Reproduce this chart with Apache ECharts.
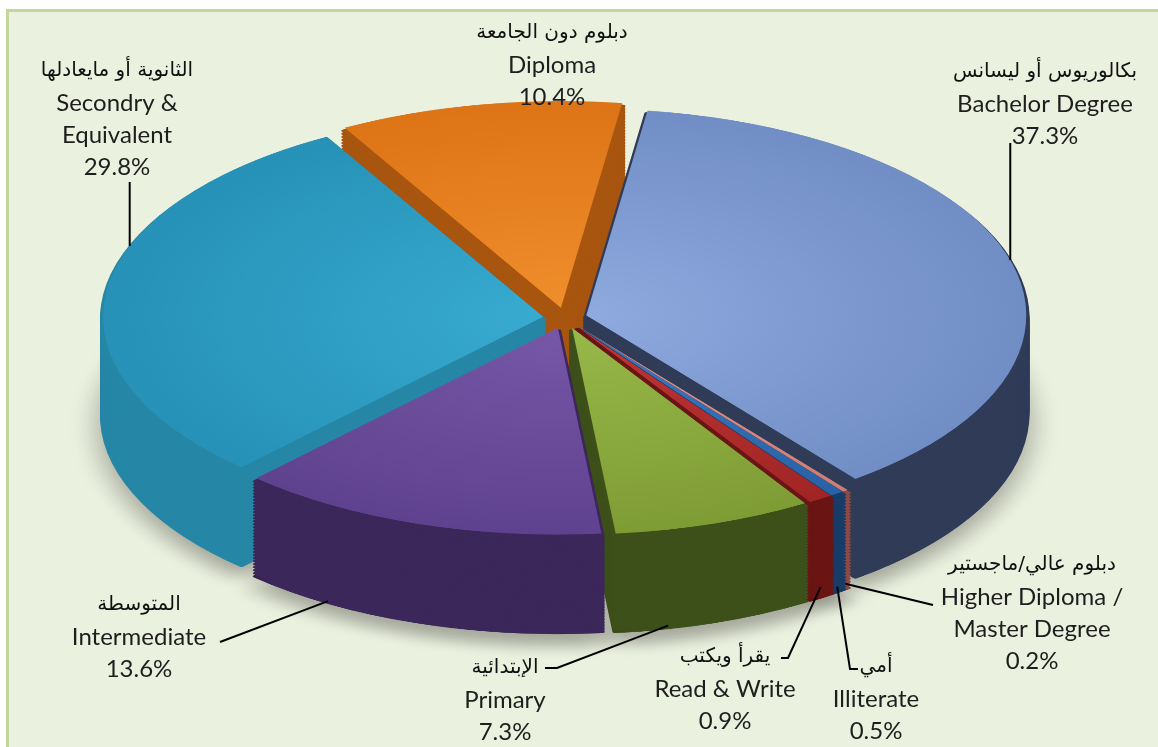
<!DOCTYPE html>
<html>
<head>
<meta charset="utf-8">
<script src="https://cdn.jsdelivr.net/npm/echarts@6/dist/echarts.min.js"></script>
<style>
  html, body { margin: 0; padding: 0; background: #ffffff; width: 1158px; height: 747px; overflow: hidden; position: relative; }
  #bg { position: absolute; left: 6px; top: 9px; width: 1152px; height: 738px; background: #ebf1df;
        border-top: 3px solid #c4d79b; border-left: 3px solid #c4d79b; box-sizing: border-box; }
  #pie { position: absolute; left: 0; top: 0; width: 1158px; transform-origin: 0 0; }
  #labels { position: absolute; left: 0; top: 0; width: 1158px; height: 747px; }
</style>
</head>
<body>
<div id="bg"></div>
<div id="pie"></div>
<div id="labels"></div>
<script>
// ---- data ----
const categoriesEn = ['Bachelor Degree', 'Higher Diploma /\nMaster Degree', 'Illiterate', 'Read & Write', 'Primary', 'Intermediate', 'Secondry &\nEquivalent', 'Diploma'];
const categoriesAr = ['بكالوريوس أو ليسانس', 'دبلوم عالي/ماجستير', 'أمي', 'يقرأ ويكتب', 'الإبتدائية', 'المتوسطة', 'الثانوية أو مايعادلها', 'دبلوم دون الجامعة'];
const shares = [37.3, 0.2, 0.5, 0.9, 7.3, 13.6, 29.8, 10.4];

// ---- styling / layout (not data) ----
const topLight   = ['#8eaade', '#e39a92', '#3a7cc4', '#c03636', '#98b84a', '#7657a8', '#38abd0', '#f08e2c'];
const topDark    = ['#6f8cc4', '#cc7b73', '#2860a3', '#a02424', '#7d9b33', '#5e418e', '#2690b6', '#dc7316'];
const sideColors = ['#2f3b57', '#8c4a46', '#183c68', '#6b1414', '#3d501a', '#3b2759', '#2586a6', '#a85510'];
const squash = 0.47;          // vertical squash of the pie canvas (perspective)
const cx = 565, cyScreen = 318, R = 440, explode = 22, depthScreen = 98, startAngle = 82;
const cyPre = cyScreen / squash, depthPre = depthScreen / squash;
const layers = 32;

// label placement (screen px): centre of text block; anchor angle (deg, null = slice middle), depth fraction, extra line points
const labelCenters = [[1045, 104], [1032, 613], [876, 699], [725, 689], [505, 700], [139, 637], [117, 119], [552, 65]];
const anchorAngles = [15.5, null, null, null, -77.4, -121.5, 160, null];
const anchorDepth  = [0, 0.95, 0.95, 0.9, 0.98, 0.99, 0, null];
const lineEnds = [
  [['ax', 143]],
  [[933, 605]],
  [[850, 669], [858, 669]],
  [[788, 658], [781, 658]],
  [[557, 668], [545, 668]],
  [[220, 642]],
  [['ax', 182]],
  null
];

// ---------- pie (drawn in a vertically squashed canvas) ----------
const pieDiv = document.getElementById('pie');
pieDiv.style.height = Math.round(747 / squash) + 'px';
pieDiv.style.transform = 'scaleY(' + squash + ')';
const pieChart = echarts.init(pieDiv, null, { renderer: 'canvas' });

function pieLayer(dy, isSide, extraStyle, name) {
  return {
    type: 'pie',
    name: name,
    silent: true,
    center: [cx, cyPre + dy],
    radius: [0, R],
    startAngle: startAngle,
    clockwise: true,
    selectedMode: 'multiple',
    selectedOffset: explode,
    avoidLabelOverlap: false,
    label: { show: false },
    labelLine: { show: false },
    emphasis: { disabled: true },
    select: isSide ? {} : { itemStyle: { borderWidth: 0 } },
    data: shares.map((v, i) => ({
      value: v, name: categoriesEn[i], selected: true,
      itemStyle: Object.assign(
        isSide
          ? { color: sideColors[i], borderColor: sideColors[i], borderWidth: depthPre / layers, borderJoin: 'round' }
          : { color: { type: 'radial', x: cx, y: cyPre, r: R + explode, global: true,
                       colorStops: [{ offset: 0, color: topLight[i] }, { offset: 1, color: topDark[i] }] } },
        extraStyle || {})
    }))
  };
}

const series = [];
for (let j = layers; j >= 1; j--) {
  const extra = j === layers ? { shadowBlur: 30, shadowColor: 'rgba(0,0,0,0.3)', shadowOffsetY: 24 } : null;
  series.push(pieLayer(depthPre * j / layers, true, extra, 'side' + j));
}
series.push(pieLayer(0, false, null, 'Education level'));

pieChart.setOption({ backgroundColor: 'transparent', animation: false, series: series });

// ---------- labels (unsquashed overlay) ----------
const total = shares.reduce((a, b) => a + b, 0);
function sliceMid(i) {
  let cum = 0;
  for (let k = 0; k < i; k++) cum += shares[k];
  const a0 = startAngle - 360 * cum / total;
  const a1 = a0 - 360 * shares[i] / total;
  return (a0 + a1) / 2;
}
function anchorPoint(i) {
  const mid = sliceMid(i) * Math.PI / 180;
  const tDeg = anchorAngles[i] == null ? sliceMid(i) : anchorAngles[i];
  const t = tDeg * Math.PI / 180;
  const xPre = cx + explode * Math.cos(mid) + R * Math.cos(t);
  const yPre = cyPre - explode * Math.sin(mid) - R * Math.sin(t) + (anchorDepth[i] || 0) * depthPre;
  return [xPre, yPre * squash];
}

const rich = {
  ar: { fontFamily: '"DejaVu Sans", "Noto Sans", sans-serif', fontSize: 20, lineHeight: 32, fill: '#111', align: 'center' },
  en: { fontFamily: 'Lato, "Noto Sans", sans-serif', fontSize: 24, lineHeight: 32, fill: '#1e1e1e', align: 'center' }
};

const graphics = [];
shares.forEach((v, i) => {
  const enLines = categoriesEn[i].split('\n').map(s => '{en|' + s + '}').join('\n');
  graphics.push({
    type: 'text',
    x: labelCenters[i][0], y: labelCenters[i][1],
    silent: true,
    style: {
      text: '{ar|' + categoriesAr[i] + '}\n' + enLines + '\n{en|' + v.toFixed(1) + '%}',
      rich: rich,
      align: 'center',
      verticalAlign: 'middle'
    },
    z: 10
  });
  if (lineEnds[i]) {
    const a = anchorPoint(i);
    const pts = [a].concat(lineEnds[i].map(p => [p[0] === 'ax' ? a[0] : p[0], p[1]]));
    graphics.push({
      type: 'polyline',
      silent: true,
      shape: { points: pts },
      style: { stroke: '#000', lineWidth: 2, fill: null },
      z: 9
    });
  }
});

const labelChart = echarts.init(document.getElementById('labels'), null, { renderer: 'canvas' });
labelChart.setOption({ backgroundColor: 'transparent', animation: false, graphic: { elements: graphics } });
</script>
</body>
</html>
